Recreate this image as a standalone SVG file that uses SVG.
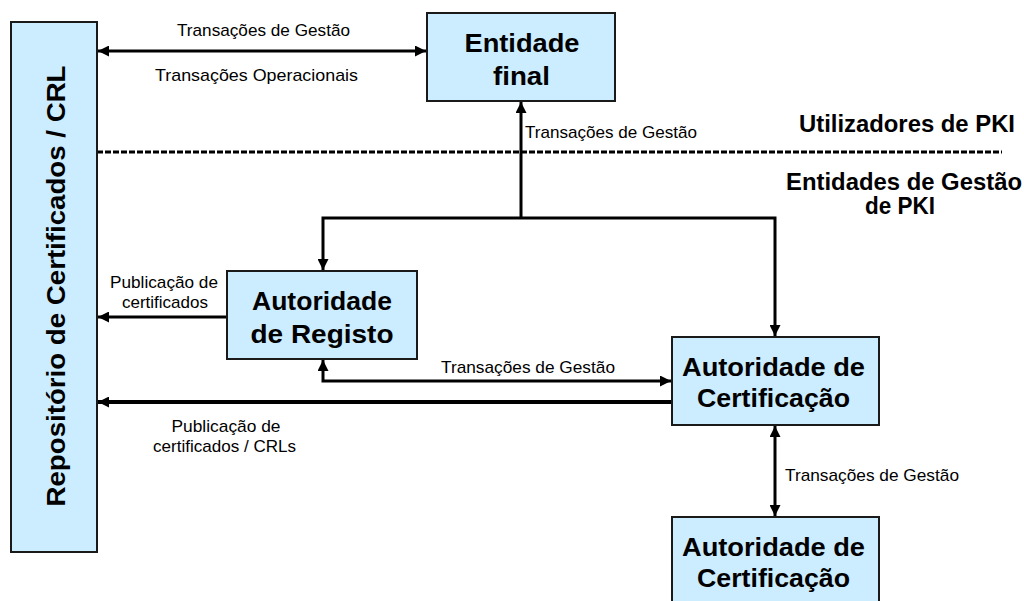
<svg xmlns="http://www.w3.org/2000/svg" width="1024" height="601" viewBox="0 0 1024 601">
  <style>
    .box { fill: #CCECFF; stroke: #1a1a1a; stroke-width: 2; }
    .big { font-family: "Liberation Sans", Arial, sans-serif; font-weight: bold; font-size: 25px; fill: #000; text-anchor: middle; }
    .zone { font-family: "Liberation Sans", Arial, sans-serif; font-weight: bold; font-size: 23px; fill: #000; text-anchor: middle; }
    .lbl { font-family: "Liberation Sans", Arial, sans-serif; font-size: 17px; fill: #000; }
    .mid { text-anchor: middle; }
    .conn { fill: none; stroke: #000; stroke-width: 3; }
    .thick { stroke-width: 4; }
    .sep { fill: none; stroke: #000; stroke-width: 3; stroke-dasharray: 6 2; }
  </style>
  <defs>
    <marker id="arrow" viewBox="0 0 10 10" refX="10" refY="5" markerUnits="userSpaceOnUse" markerWidth="11" markerHeight="11" orient="auto-start-reverse">
      <path d="M0,0 L10,5 L0,10 z" fill="#000"/>
    </marker>
  </defs>

  <rect width="1024" height="601" fill="#fff"/>

  <!-- separator between PKI users and PKI management entities -->
  <g id="separator">
    <line class="sep" x1="97" y1="152" x2="1002" y2="152"/>
    <text class="zone" x="907" y="132" textLength="216" lengthAdjust="spacingAndGlyphs">Utilizadores de PKI</text>
    <text class="zone" x="904" y="190" textLength="236" lengthAdjust="spacingAndGlyphs">Entidades de Gestão</text>
    <text class="zone" x="900" y="214" textLength="70" lengthAdjust="spacingAndGlyphs">de PKI</text>
  </g>

  <g id="connectors">
    <!-- repository <-> end entity -->
    <line class="conn" x1="98" y1="51" x2="426" y2="51" marker-start="url(#arrow)" marker-end="url(#arrow)"/>
    <text class="lbl mid" x="263.5" y="36" textLength="173" lengthAdjust="spacingAndGlyphs">Transações de Gestão</text>
    <text class="lbl mid" x="256.5" y="81" textLength="203" lengthAdjust="spacingAndGlyphs">Transações Operacionais</text>

    <!-- management bus up to end entity -->
    <line class="conn" x1="521" y1="218" x2="521" y2="102" marker-end="url(#arrow)"/>
    <text class="lbl" x="525" y="138" textLength="172" lengthAdjust="spacingAndGlyphs">Transações de Gestão</text>
    <polyline class="conn" points="323,270 323,218 775,218 775,336" marker-start="url(#arrow)" marker-end="url(#arrow)"/>

    <!-- RA publishes to repository -->
    <line class="conn" x1="227" y1="317" x2="98" y2="317" marker-end="url(#arrow)"/>
    <text class="lbl mid" x="164" y="288" textLength="108" lengthAdjust="spacingAndGlyphs">Publicação de</text>
    <text class="lbl mid" x="165" y="308" textLength="86" lengthAdjust="spacingAndGlyphs">certificados</text>

    <!-- RA <-> CA -->
    <polyline class="conn" points="323,360 323,381 671,381" marker-start="url(#arrow)" marker-end="url(#arrow)"/>
    <text class="lbl mid" x="528" y="373" textLength="174" lengthAdjust="spacingAndGlyphs">Transações de Gestão</text>

    <!-- CA publishes to repository -->
    <line class="conn thick" x1="672" y1="402" x2="98" y2="402" marker-end="url(#arrow)"/>
    <text class="lbl mid" x="226" y="432" textLength="109" lengthAdjust="spacingAndGlyphs">Publicação de</text>
    <text class="lbl mid" x="224.5" y="452" textLength="143" lengthAdjust="spacingAndGlyphs">certificados / CRLs</text>

    <!-- CA <-> CA -->
    <line class="conn" x1="775" y1="426" x2="775" y2="516" marker-start="url(#arrow)" marker-end="url(#arrow)"/>
    <text class="lbl" x="785" y="481" textLength="174" lengthAdjust="spacingAndGlyphs">Transações de Gestão</text>
  </g>

  <g id="repositorio">
    <rect class="box" x="11" y="22" width="86" height="530"/>
    <text class="big" transform="translate(65,286) rotate(-90)" font-size="28" textLength="441" lengthAdjust="spacingAndGlyphs">Repositório de Certificados / CRL</text>
  </g>

  <g id="entidade-final">
    <rect class="box" x="427" y="13" width="188" height="88"/>
    <text class="big" x="522" y="52" textLength="115" lengthAdjust="spacingAndGlyphs">Entidade</text>
    <text class="big" x="521.5" y="85" textLength="57" lengthAdjust="spacingAndGlyphs">final</text>
  </g>

  <g id="autoridade-registo">
    <rect class="box" x="227" y="271" width="190" height="88"/>
    <text class="big" x="322" y="310" textLength="140" lengthAdjust="spacingAndGlyphs">Autoridade</text>
    <text class="big" x="322" y="343" textLength="143" lengthAdjust="spacingAndGlyphs">de Registo</text>
  </g>

  <g id="autoridade-certificacao">
    <rect class="box" x="672" y="337" width="207" height="88"/>
    <text class="big" x="773.5" y="376" textLength="183" lengthAdjust="spacingAndGlyphs">Autoridade de</text>
    <text class="big" x="773.5" y="407" textLength="153" lengthAdjust="spacingAndGlyphs">Certificação</text>
  </g>

  <g id="autoridade-certificacao-2">
    <rect class="box" x="672" y="517" width="207" height="100"/>
    <text class="big" x="773.5" y="556" textLength="183" lengthAdjust="spacingAndGlyphs">Autoridade de</text>
    <text class="big" x="773.5" y="587" textLength="153" lengthAdjust="spacingAndGlyphs">Certificação</text>
  </g>
</svg>
